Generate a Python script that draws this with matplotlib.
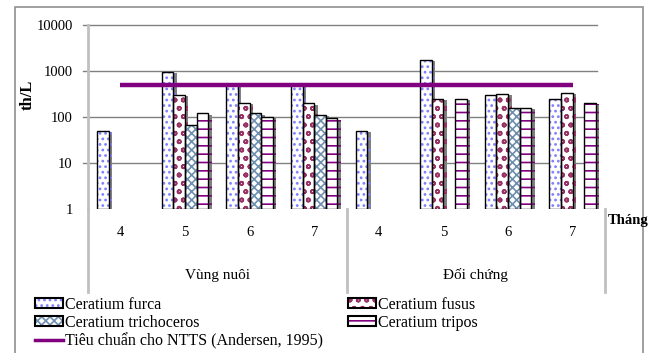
import numpy as np
import matplotlib.pyplot as plt
import matplotlib.patheffects as pe
from matplotlib.patches import Rectangle

plt.rcParams['font.family'] = ['Liberation Serif', 'DejaVu Serif']
plt.rcParams['hatch.linewidth'] = 1.2

months = ['4', '5', '6', '7', '4', '5', '6', '7']
sites = ['Vùng nuôi', 'Đối chứng']
furca = [50, 950, 520, 520, 50, 1750, 300, 250]
fusus = [np.nan, 300, 205, 200, np.nan, 250, 320, 340]
trichoceros = [np.nan, 67, 120, 110, np.nan, np.nan, 158, np.nan]
tripos = [np.nan, 120, 100, 93, np.nan, 250, 158, 205]
standard = [500] * 8

series = [
    ('Ceratium furca', furca, '#7f7fff', '...'),
    ('Ceratium fusus', fusus, '#993366', 'oo'),
    ('Ceratium trichoceros', trichoceros, '#6f8fb0', 'xxxx'),
    ('Ceratium tripos', tripos, '#800080', '--'),
]

fig = plt.figure(figsize=(6.53, 3.53), dpi=100)
ax = fig.add_axes([88 / 653, 1 - 209 / 353, 517 / 653, 184 / 353])

x = np.arange(len(months))
w = 0.18
shadow = [pe.SimplePatchShadow(offset=(2.5, -1), shadow_rgbFace='#808080', alpha=1.0), pe.Normal()]
for i, (name, vals, col, hatch) in enumerate(series):
    pos = x + (i - 1.5) * w
    v = np.array(vals, dtype=float)
    m = ~np.isnan(v)
    bars = ax.bar(pos[m], v[m] - 1, bottom=1, width=w, facecolor='white',
                  edgecolor=col, hatch=hatch, linewidth=0, zorder=3)
    for b in bars:
        b.set_path_effects(shadow)
    ax.bar(pos[m], v[m] - 1, bottom=1, width=w, facecolor='none',
           edgecolor='black', linewidth=1.0, zorder=4)

ax.plot(x, standard, color='#800080', linewidth=3.2, zorder=5,
        solid_capstyle='butt')

ax.set_yscale('log')
ax.set_ylim(1, 10000)
ax.set_xlim(-0.5, 7.5)
ax.set_yticks([1, 10, 100, 1000, 10000])
ax.set_yticklabels(['1', '10', '100', '1000', '10000'], fontsize=10.5)
ax.yaxis.set_minor_locator(plt.NullLocator())
ax.tick_params(axis='y', length=0, pad=11)
ax.set_xticks([])
for yv in [10, 100, 1000, 10000]:
    ax.plot([-0.58, 7.38], [yv, yv], color='#808080', linewidth=1,
            zorder=1, clip_on=False)
for s in ['top', 'right', 'bottom']:
    ax.spines[s].set_visible(False)
ax.spines['left'].set_color('#c0c0c0')
ax.spines['left'].set_linewidth(2)
ax.set_ylabel('th/L', fontsize=12, fontweight='bold')
ax.yaxis.set_label_coords(-52 / 517, 0.62)

# category axis labels
for xi, mth in zip(x, months):
    ax.text(xi, -0.13, mth, transform=ax.get_xaxis_transform(), ha='center',
            va='center', fontsize=10.5)
for k, s in enumerate(sites):
    ax.text(1.5 + 4 * k, -0.36, s, transform=ax.get_xaxis_transform(),
            ha='center', va='center', fontsize=11)
for xs in [-0.5, 3.5, 7.5]:
    ax.plot([xs, xs], [0, -0.45], transform=ax.get_xaxis_transform(),
            color='#c0c0c0', linewidth=2, clip_on=False)
fig.text(628 / 653, 1 - 221 / 353, 'Tháng', ha='center', va='center',
         fontsize=10.5, fontweight='bold')

# outer border
fig.add_artist(Rectangle((15 / 653, -0.05), 628 / 653, 1 - 7 / 353 + 0.05,
                         transform=fig.transFigure, fill=False,
                         edgecolor='#909090', linewidth=1.2))

# legend: matplotlib fills column by column
handles = [Rectangle((0, 0), 1, 1, facecolor='white', edgecolor=col, hatch=h,
                     linewidth=0) for _, _, col, h in series]
frames = [Rectangle((0, 0), 1, 1, facecolor='none', edgecolor='black',
                    linewidth=1.5) for _ in series]
labels = [n for n, _, _, _ in series]
line_h = plt.Line2D([], [], color='#800080', linewidth=2.5)
order_h = [(handles[0], frames[0]), (handles[2], frames[2]), line_h,
           (handles[1], frames[1]), (handles[3], frames[3])]
order_l = [labels[0], labels[2], 'Tiêu chuẩn cho NTTS (Andersen, 1995)',
           labels[1], labels[3]]
fig.legend(order_h, order_l,
           ncol=2, loc='upper left', bbox_to_anchor=(27 / 653, 1 - 289 / 353),
           frameon=False, fontsize=11.5, handlelength=1.75,
           handleheight=0.6, handletextpad=0.12, columnspacing=1.6,
           labelspacing=0.12, borderpad=0)
fig.savefig('out.png', dpi=100)
